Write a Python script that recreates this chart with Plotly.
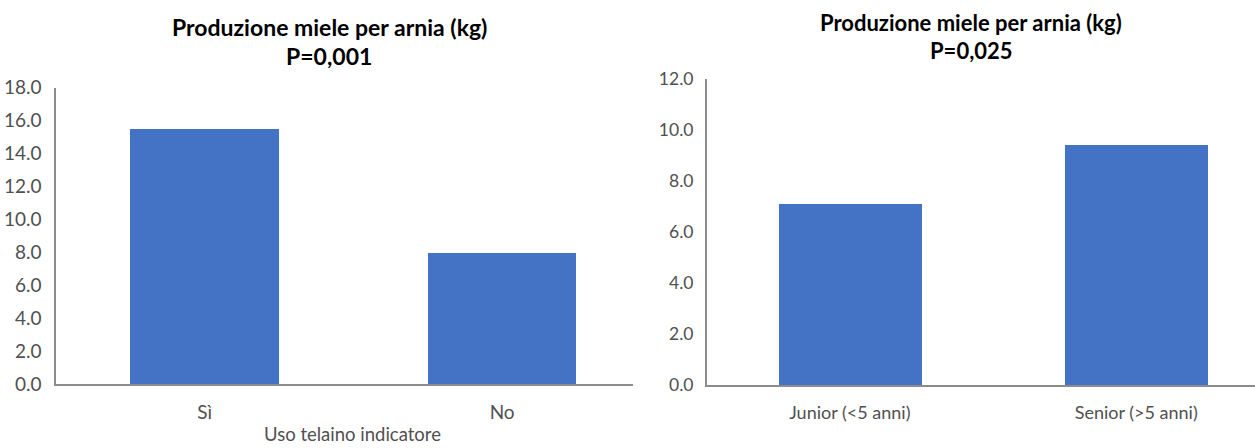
import plotly.graph_objects as go

# Honey yield per hive (kg) by group
cat_left = ["Sì", "No"]
val_left = [15.5, 8.0]
cat_right = ["Junior (<5 anni)", "Senior (>5 anni)"]
val_right = [7.1, 9.4]

title_main = "Produzione miele per arnia (kg)"
p_left = "P=0,001"
p_right = "P=0,025"
xtitle_left = "Uso telaino indicatore"

W, H = 1255, 448
BAR = "#4472C4"
AXIS = "#8c8c8c"
TXT = "#505050"
FONT = "Lato"


def px(x):
    return x / W


def py(y):
    return 1 - y / H


fig = go.Figure()
fig.add_trace(go.Bar(x=[0, 1], y=val_left, width=0.5, marker_color=BAR,
                     marker_line_width=0, xaxis="x", yaxis="y"))
fig.add_trace(go.Bar(x=[0, 1], y=val_right, width=0.5, marker_color=BAR,
                     marker_line_width=0, xaxis="x2", yaxis="y2"))


def xax(size, standoff):
    return dict(showgrid=False, zeroline=False, showline=True, linecolor=AXIS,
                linewidth=2, ticks="", automargin=False,
                tickfont=dict(family=FONT, size=size, color=TXT),
                ticklabelstandoff=standoff, tickmode="array", tickvals=[0, 1])


def yax(size, standoff):
    return dict(showgrid=False, zeroline=False, showline=True, linecolor=AXIS,
                linewidth=1.5, ticks="", tickformat=".1f", automargin=False,
                tickfont=dict(family=FONT, size=size, color=TXT),
                ticklabelstandoff=standoff)


fig.update_layout(
    width=W, height=H,
    margin=dict(l=0, r=0, t=0, b=0),
    paper_bgcolor="white", plot_bgcolor="white",
    showlegend=False,
    bargap=0,
    xaxis=dict(domain=[px(56), px(633)], range=[-0.5, 1.44],
               ticktext=cat_left, anchor="y", **xax(19, 10)),
    yaxis=dict(domain=[py(384.3), py(87.7)], range=[0, 18], dtick=2,
               anchor="x", **yax(19, 9)),
    xaxis2=dict(domain=[px(706.7), 1], range=[-0.5, 1.415],
                ticktext=cat_right, anchor="y2", **xax(18, 10)),
    yaxis2=dict(domain=[py(385), py(79.3)], range=[0, 12], dtick=2,
                anchor="x2", **yax(17.5, 8)),
)

for cx, y1, y2, ptxt, sz in [(329, 27, 56, p_left, 23), (971, 22, 50, p_right, 22)]:
    tf = dict(family=FONT, size=sz, color="#000000")
    fig.add_annotation(x=px(cx), y=py(y1), xref="paper", yref="paper",
                       text="<b>" + title_main + "</b>", showarrow=False,
                       font=tf, xanchor="center", yanchor="middle")
    fig.add_annotation(x=px(cx), y=py(y2), xref="paper", yref="paper",
                       text="<b>" + ptxt + "</b>", showarrow=False,
                       font=tf, xanchor="center", yanchor="middle")

fig.add_annotation(x=px(352.5), y=py(446), xref="paper", yref="paper",
                   text=xtitle_left, showarrow=False,
                   font=dict(family=FONT, size=18.5, color=TXT),
                   xanchor="center", yanchor="bottom", borderpad=0)

fig.write_html("out.html")
